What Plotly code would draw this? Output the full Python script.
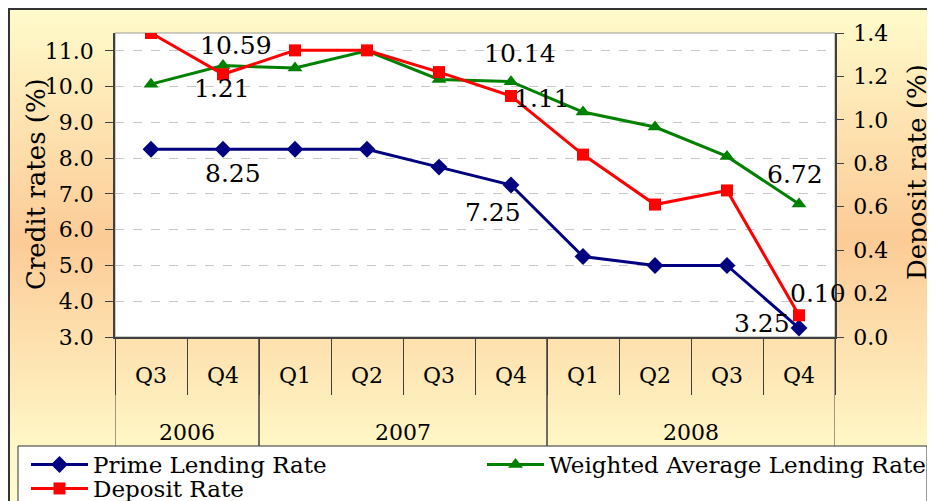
import base64
import plotly.graph_objects as go

# ---- data ----
years = ["2006", "2006", "2007", "2007", "2007", "2007", "2008", "2008", "2008", "2008"]
quarters = ["Q3", "Q4", "Q1", "Q2", "Q3", "Q4", "Q1", "Q2", "Q3", "Q4"]
prime_lending = [8.25, 8.25, 8.25, 8.25, 7.75, 7.25, 5.25, 5.00, 5.00, 3.25]
weighted_avg = [10.07, 10.59, 10.52, 11.00, 10.20, 10.14, 9.29, 8.87, 8.05, 6.72]
deposit_rate = [1.40, 1.21, 1.32, 1.32, 1.22, 1.11, 0.84, 0.61, 0.675, 0.10]
labelled_points = [1, 5, 9]

# label offsets (style only): (dx, dy) in px from the marker, per labelled point
label_offsets = {
    "prime": [(10, 24), (-18, 27), (-37, -5)],
    "walr": [(13, -20), (9, -28), (-4, -29)],
    "deposit": [(-1, 14), (31, 3), (19, -22)],
}

FONT = "DejaVu Serif"
OFF = 8                      # page offset of the figure in the screenshot
W, H = 927, 493
ML, MR, MT, MB = 107, 100, 25, 164
PW, PH = W - ML - MR, H - MT - MB


def fx(p):  # reference-screenshot pixel -> paper x
    return (p - OFF - ML) / PW


def fy(p):  # reference-screenshot pixel -> paper y
    return (H - MB - (p - OFF)) / PH


cats = [f"{y} {q}" for y, q in zip(years, quarters)]

groups = []
for i, yv in enumerate(years):
    if groups and groups[-1][0] == yv:
        groups[-1][2] = i
    else:
        groups.append([yv, i, i])

fig = go.Figure()
fig.add_trace(go.Scatter(
    x=cats, y=prime_lending, name="Prime Lending Rate", mode="lines+markers",
    line=dict(color="#000080", width=3),
    marker=dict(symbol="diamond", size=13, color="#000080"),
    yaxis="y", legend="legend",
))
fig.add_trace(go.Scatter(
    x=cats, y=weighted_avg, name="Weighted Average Lending Rate", mode="lines+markers",
    line=dict(color="#008000", width=3),
    marker=dict(symbol="triangle-up", size=13, color="#008000"),
    yaxis="y", legend="legend2",
))
fig.add_trace(go.Scatter(
    x=cats, y=deposit_rate, name="Deposit Rate", mode="lines+markers",
    line=dict(color="#FF0000", width=3),
    marker=dict(symbol="square", size=12, color="#FF0000"),
    yaxis="y2", legend="legend3",
))

svg = ('<svg xmlns="http://www.w3.org/2000/svg" width="100" height="100" viewBox="0 0 100 100" '
       'preserveAspectRatio="none"><defs><linearGradient id="g" x1="0" y1="0" x2="0" y2="1">'
       '<stop offset="0" stop-color="#FFFBCB"/><stop offset="0.47" stop-color="#FCCB96"/>'
       '<stop offset="0.9" stop-color="#FFF8C8"/><stop offset="1" stop-color="#FFFBCB"/>'
       '</linearGradient></defs><rect width="100" height="100" fill="url(#g)"/></svg>')
src = "data:image/svg+xml;base64," + base64.b64encode(svg.encode()).decode()

shapes = [
    dict(type="rect", xref="paper", yref="paper", x0=fx(9), x1=fx(1000), y0=fy(560), y1=fy(9),
         line=dict(color="#333333", width=2), fillcolor="rgba(0,0,0,0)", layer="below"),
    dict(type="rect", xref="paper", yref="paper", x0=0, x1=1, y0=0, y1=1,
         line=dict(color="#999999", width=1), fillcolor="white", layer="below"),
    dict(type="rect", xref="paper", yref="paper", x0=fx(18), x1=fx(927), y0=fy(560), y1=fy(446),
         line=dict(color="#333333", width=1), fillcolor="white", layer="below"),
]
annotations = [
    dict(text="Deposit rate (%)", xref="paper", yref="paper", x=fx(917), y=fy(172),
         textangle=-90, showarrow=False, font=dict(size=26), xanchor="center", yanchor="middle"),
    dict(text="Credit rates (%)", xref="paper", yref="paper", x=fx(36), y=fy(184),
         textangle=-90, showarrow=False, font=dict(size=26), xanchor="center", yanchor="middle"),
]
for yv, i0, i1 in groups:
    for xb in (i0 - 0.5, i1 + 0.5):
        shapes.append(dict(type="line", xref="x", yref="paper", x0=xb, x1=xb, y0=0, y1=fy(446),
                           line=dict(color="#404040", width=1), layer="above"))
    annotations.append(dict(text=yv, xref="x", yref="paper", x=(i0 + i1) / 2, y=fy(432),
                            showarrow=False, font=dict(size=22), xanchor="center", yanchor="middle"))

for key, vals, yref in (("prime", prime_lending, "y"), ("walr", weighted_avg, "y"),
                        ("deposit", deposit_rate, "y2")):
    for (dx, dy), i in zip(label_offsets[key], labelled_points):
        annotations.append(dict(text=f"{vals[i]:.2f}", xref="x", yref=yref, x=i, y=vals[i],
                                xshift=dx, yshift=-dy, showarrow=False, font=dict(size=25),
                                xanchor="center", yanchor="middle"))

legend_style = dict(orientation="v", xanchor="left", yanchor="top", bgcolor="rgba(0,0,0,0)",
                    borderwidth=0, font=dict(size=23), itemwidth=57)

fig.update_layout(
    width=W, height=H,
    margin=dict(l=ML, r=MR, t=MT, b=MB, autoexpand=False),
    paper_bgcolor="#FFFBCB", plot_bgcolor="white",
    font=dict(family=FONT, color="black", size=22),
    images=[dict(source=src, xref="paper", yref="paper", x=fx(8), y=fy(8),
                 sizex=fx(8 + W) - fx(8), sizey=fy(8) - fy(8 + H),
                 xanchor="left", yanchor="top", sizing="stretch", layer="below")],
    shapes=shapes,
    annotations=annotations,
    xaxis=dict(
        type="category", tickvals=cats, ticktext=quarters, tickson="boundaries",
        showline=True, linecolor="#404040", linewidth=1.5,
        ticks="outside", ticklen=56, tickcolor="#404040", tickwidth=1,
        tickfont=dict(size=22), ticklabelstandoff=18, showgrid=False, automargin=False,
        range=[-0.5, len(cats) - 0.5],
    ),
    yaxis=dict(
        range=[3, 11.5], dtick=1, tick0=3, tickformat=".1f",
        showline=True, linecolor="#404040", linewidth=1.5,
        ticks="outside", ticklen=8, tickcolor="#404040", ticklabelstandoff=7,
        showgrid=True, gridcolor="#C8C8C8", griddash="dash", gridwidth=1, zeroline=False,
        tickfont=dict(size=22), automargin=False,
    ),
    yaxis2=dict(
        range=[0, 1.4], dtick=0.2, tick0=0, tickformat=".1f", overlaying="y", side="right",
        showline=True, linecolor="#404040", linewidth=1.5,
        ticks="outside", ticklen=7, tickcolor="#404040", ticklabelstandoff=5,
        showgrid=False, zeroline=False, tickfont=dict(size=22), automargin=False,
    ),
    legend=dict(x=fx(26), y=fy(443), **legend_style),
    legend2=dict(x=fx(482), y=fy(443), **legend_style),
    legend3=dict(x=fx(26), y=fy(467), **legend_style),
    showlegend=True,
)

fig.write_html("out.html")
